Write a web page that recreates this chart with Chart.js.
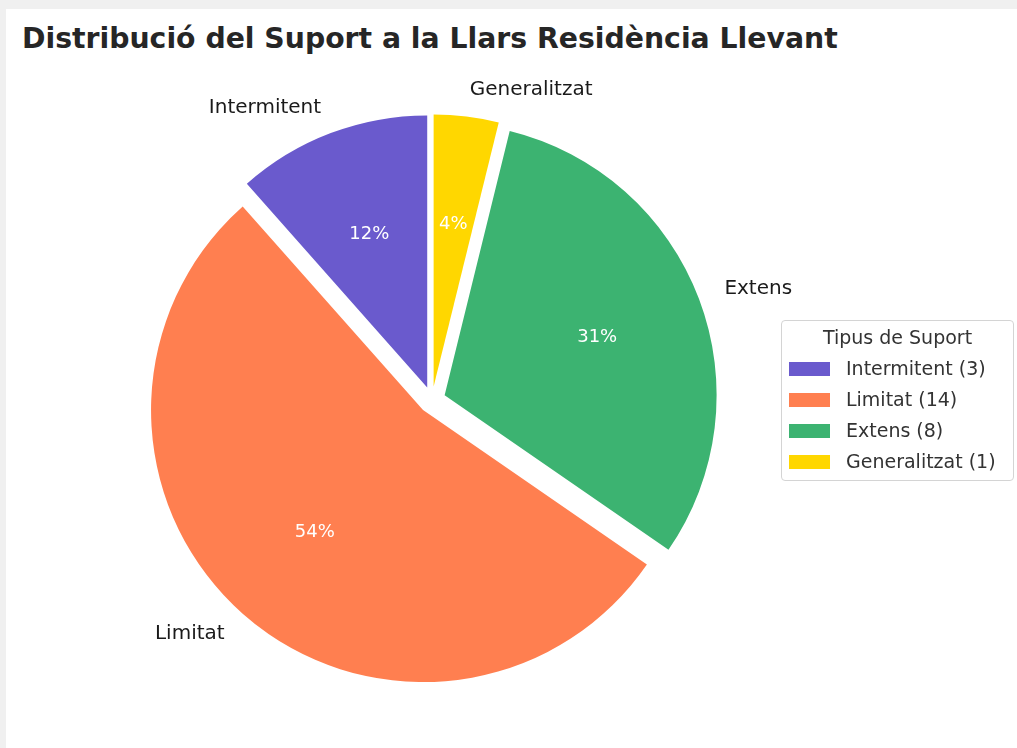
<!DOCTYPE html>
<html>
<head>
<meta charset="utf-8">
<script src="https://cdn.jsdelivr.net/npm/chart.js@4.4.0/dist/chart.umd.min.js"></script>
<style>
  html, body { margin: 0; padding: 0; }
  body { width: 1017px; height: 748px; background: #f0f0f0; overflow: hidden; font-family: 'DejaVu Sans', sans-serif; position: relative; }
  #panel { position: absolute; left: 6px; top: 9px; right: 0; bottom: 0; background: #fff; }
  #title { position: absolute; left: 22px; top: 22px; font-size: 28.3px; font-weight: bold; color: #262626; white-space: nowrap; line-height: 34px; }
  #chart { position: absolute; left: 0; top: 0; }
  #legend { position: absolute; left: 781px; top: 320px; width: 231px; height: 159px; border: 1px solid #d4d4d4; border-radius: 4px; background: rgba(255,255,255,0.8); color: #333; font-size: 19px; }
  #legend .lt { position: absolute; left: 0; width: 100%; top: 4px; text-align: center; line-height: 24px; }
  #legend .row { position: absolute; left: 7px; height: 24px; line-height: 24px; white-space: nowrap; }
  #legend .sw { display: inline-block; width: 41px; height: 14px; vertical-align: middle; margin-right: 16px; position: relative; top: -1px; }
</style>
</head>
<body>
<div id="panel"></div>
<div id="title">Distribució del Suport a la Llars Residència Llevant</div>
<canvas id="chart" width="1017" height="748"></canvas>
<div id="legend"></div>
<script>
const categories = ['Intermitent', 'Limitat', 'Extens', 'Generalitzat'];
const counts = [3, 14, 8, 1];
const colors = ['#6A5ACD', '#FF7F50', '#3CB371', '#FFD700'];
const legendTitle = 'Tipus de Suport';

// matplotlib went counter-clockwise from the top, Chart.js goes clockwise
const order = [3, 2, 1, 0];
const total = counts.reduce((a, b) => a + b, 0);

// every slice pushed out from the centre by the same distance
const explode = 13.5;

function shiftOf(arc) {
  const p = arc.getProps(['startAngle', 'endAngle']);
  const mid = (p.startAngle + p.endAngle) / 2;
  return { mid, dx: Math.cos(mid) * explode, dy: Math.sin(mid) * explode };
}

// Chart.js' own offset also grows the radius, so do the shift here instead
const explodeSlices = {
  id: 'explodeSlices',
  beforeDatasetDraw(chart, args) {
    const ctx = chart.ctx;
    args.meta.data.forEach(arc => {
      const s = shiftOf(arc);
      ctx.save();
      ctx.translate(s.dx, s.dy);
      arc.draw(ctx);
      ctx.restore();
    });
    return false;
  }
};

const pieLabels = {
  id: 'pieLabels',
  afterDatasetsDraw(chart) {
    const ctx = chart.ctx;
    const meta = chart.getDatasetMeta(0);
    ctx.save();
    meta.data.forEach((arc, i) => {
      const idx = order[i];
      const p = arc.getProps(['x', 'y', 'outerRadius']);
      const s = shiftOf(arc);
      const cx = p.x + s.dx;
      const cy = p.y + s.dy;
      const r = p.outerRadius;
      // category label outside
      ctx.font = '20px "DejaVu Sans"';
      ctx.fillStyle = '#1a1a1a';
      ctx.textBaseline = 'middle';
      ctx.textAlign = Math.cos(s.mid) >= 0 ? 'left' : 'right';
      ctx.fillText(categories[idx], cx + 1.1 * r * Math.cos(s.mid), cy + 1.1 * r * Math.sin(s.mid));
      // percentage inside
      ctx.font = '18px "DejaVu Sans"';
      ctx.fillStyle = '#ffffff';
      ctx.textAlign = 'center';
      ctx.fillText(Math.round(counts[idx] / total * 100) + '%', cx + 0.6 * r * Math.cos(s.mid), cy + 0.6 * r * Math.sin(s.mid));
    });
    ctx.restore();
  }
};

new Chart(document.getElementById('chart'), {
  type: 'pie',
  data: {
    labels: order.map(i => categories[i]),
    datasets: [{
      data: order.map(i => counts[i]),
      backgroundColor: order.map(i => colors[i]),
      borderWidth: 0
    }]
  },
  options: {
    responsive: false,
    animation: false,
    devicePixelRatio: 1,
    radius: 272,
    layout: { padding: { left: 146, right: 299, top: 114, bottom: 62 } },
    plugins: {
      legend: { display: false },
      title: { display: false },
      tooltip: { enabled: false }
    }
  },
  plugins: [explodeSlices, pieLabels]
});

// legend box, same order as the categories
const lg = document.getElementById('legend');
const t = document.createElement('div');
t.className = 'lt';
t.textContent = legendTitle;
lg.appendChild(t);
categories.forEach((c, i) => {
  const row = document.createElement('div');
  row.className = 'row';
  row.style.top = (35 + i * 31) + 'px';
  const sw = document.createElement('span');
  sw.className = 'sw';
  sw.style.background = colors[i];
  row.appendChild(sw);
  row.appendChild(document.createTextNode(c + ' (' + counts[i] + ')'));
  lg.appendChild(row);
});
</script>
</body>
</html>
